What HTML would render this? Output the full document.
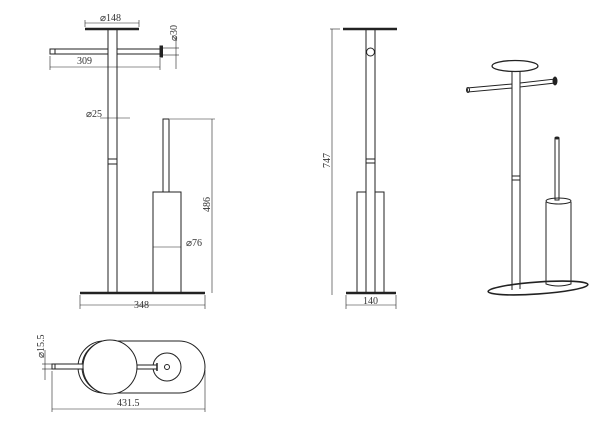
<!DOCTYPE html>
<html><head><meta charset="utf-8"><style>
html,body{margin:0;padding:0;background:#fff;width:600px;height:426px;overflow:hidden}
text{font-family:"Liberation Serif",serif;font-size:10px;fill:#333}
</style></head><body>
<svg width="600" height="426" viewBox="0 0 600 426" xmlns="http://www.w3.org/2000/svg" fill="none" stroke="#222" stroke-width="1">
<!-- FRONT VIEW -->
<line x1="85" y1="29" x2="139" y2="29" stroke-width="2.5"/>
<line x1="85" y1="23" x2="139" y2="23" stroke-width="0.6"/>
<line x1="85" y1="20" x2="85" y2="27" stroke-width="0.6"/><line x1="139" y1="20" x2="139" y2="27" stroke-width="0.6"/>
<text x="100" y="21" stroke="none">⌀148</text>
<line x1="108" y1="29" x2="108" y2="293"/><line x1="117" y1="29" x2="117" y2="293"/>
<line x1="108" y1="159" x2="117" y2="159"/><line x1="108" y1="164" x2="117" y2="164"/>
<rect x="50" y="49" width="58" height="5"/>
<rect x="117" y="49" width="43" height="5"/>
<line x1="55" y1="49" x2="55" y2="54"/>
<rect x="160" y="46" width="2.5" height="11" fill="#222"/>
<line x1="50" y1="67" x2="160" y2="67" stroke-width="0.6"/>
<line x1="50" y1="56" x2="50" y2="70" stroke-width="0.6"/><line x1="160" y1="58" x2="160" y2="70" stroke-width="0.6"/>
<text x="77" y="64" stroke="none">309</text>
<line x1="163" y1="48" x2="179" y2="48" stroke-width="0.6"/><line x1="163" y1="55" x2="179" y2="55" stroke-width="0.6"/>
<line x1="176" y1="36" x2="176" y2="69" stroke-width="0.6"/>
<text x="0" y="0" stroke="none" transform="translate(177,41) rotate(-90)">⌀30</text>
<line x1="100" y1="118" x2="130" y2="118" stroke-width="0.6"/>
<text x="86" y="117" stroke="none">⌀25</text>
<rect x="163" y="119" width="6" height="73"/>
<rect x="153" y="192" width="28" height="101"/>
<line x1="153" y1="247" x2="181" y2="247" stroke-width="0.6"/>
<text x="186" y="246" stroke="none">⌀76</text>
<line x1="170" y1="119" x2="215" y2="119" stroke-width="0.6"/>
<line x1="212" y1="119" x2="212" y2="293" stroke-width="0.6"/>
<text x="0" y="0" stroke="none" transform="translate(210,212) rotate(-90)">486</text>
<line x1="80" y1="293" x2="205" y2="293" stroke-width="2.5"/>
<line x1="80" y1="305" x2="205" y2="305" stroke-width="0.6"/>
<line x1="80" y1="295" x2="80" y2="309" stroke-width="0.6"/><line x1="205" y1="295" x2="205" y2="309" stroke-width="0.6"/>
<text x="134" y="308" stroke="none">348</text>
<!-- SIDE VIEW -->
<line x1="343" y1="29" x2="397" y2="29" stroke-width="2.5"/>
<line x1="366" y1="29" x2="366" y2="293"/><line x1="375" y1="29" x2="375" y2="293"/>
<circle cx="370.5" cy="52" r="4"/>
<line x1="366" y1="159" x2="375" y2="159"/><line x1="366" y1="163" x2="375" y2="163"/>
<polyline points="366,192 357,192 357,293"/><polyline points="375,192 384,192 384,293"/>
<line x1="346" y1="293" x2="396" y2="293" stroke-width="2.5"/>
<line x1="330" y1="29" x2="340" y2="29" stroke-width="0.6"/>
<line x1="332" y1="29" x2="332" y2="295" stroke-width="0.6"/>
<text x="0" y="0" stroke="none" transform="translate(330,168) rotate(-90)">747</text>
<line x1="346" y1="305" x2="396" y2="305" stroke-width="0.6"/>
<line x1="346" y1="295" x2="346" y2="309" stroke-width="0.6"/><line x1="396" y1="295" x2="396" y2="309" stroke-width="0.6"/>
<text x="363" y="304" stroke="none">140</text>
<!-- 3D VIEW -->
<ellipse cx="538" cy="288" rx="50" ry="6" transform="rotate(-4 538 288)" stroke-width="1.6"/>
<ellipse cx="515" cy="66" rx="23" ry="5.5" stroke-width="1.3"/>
<line x1="512" y1="71" x2="512" y2="290"/><line x1="520" y1="71" x2="520" y2="289"/>
<line x1="512" y1="176" x2="520" y2="176"/><line x1="512" y1="180" x2="520" y2="180"/>
<polygon points="467,88 512,84 512,88 468,92"/>
<polygon points="520,83 555,79 555,83 520,87"/>
<ellipse cx="468" cy="90" rx="1.5" ry="2.5"/>
<ellipse cx="555" cy="81" rx="2" ry="4" fill="#222"/>
<rect x="555" y="138" width="4" height="62"/>
<ellipse cx="557" cy="138" rx="2" ry="1"/>
<path d="M546,202 L546,284 Q558,288 571,284 L571,202"/>
<ellipse cx="558.5" cy="201" rx="12.5" ry="3"/>
<!-- TOP VIEW -->
<rect x="82" y="341" width="123" height="52" rx="26"/>
<circle cx="104" cy="367" r="26"/>
<circle cx="110" cy="367" r="27" fill="#fff"/>
<circle cx="167" cy="367" r="14"/>
<circle cx="167" cy="367" r="2.5"/>
<rect x="137" y="365" width="20" height="4" fill="#fff"/>
<line x1="157" y1="363" x2="157" y2="371" stroke-width="1.5"/>
<rect x="52" y="364" width="31" height="5" fill="#fff"/>
<line x1="55" y1="364" x2="55" y2="369"/>
<line x1="42" y1="364" x2="52" y2="364" stroke-width="0.6"/><line x1="42" y1="369" x2="52" y2="369" stroke-width="0.6"/>
<line x1="45" y1="350" x2="45" y2="380" stroke-width="0.6"/>
<text x="0" y="0" stroke="none" transform="translate(44,358) rotate(-90)">⌀15.5</text>
<line x1="52" y1="371" x2="52" y2="412" stroke-width="0.6"/><line x1="205" y1="370" x2="205" y2="412" stroke-width="0.6"/>
<line x1="52" y1="409" x2="205" y2="409" stroke-width="0.6"/>
<text x="117" y="406" stroke="none">431.5</text>
</svg>
</body></html>
